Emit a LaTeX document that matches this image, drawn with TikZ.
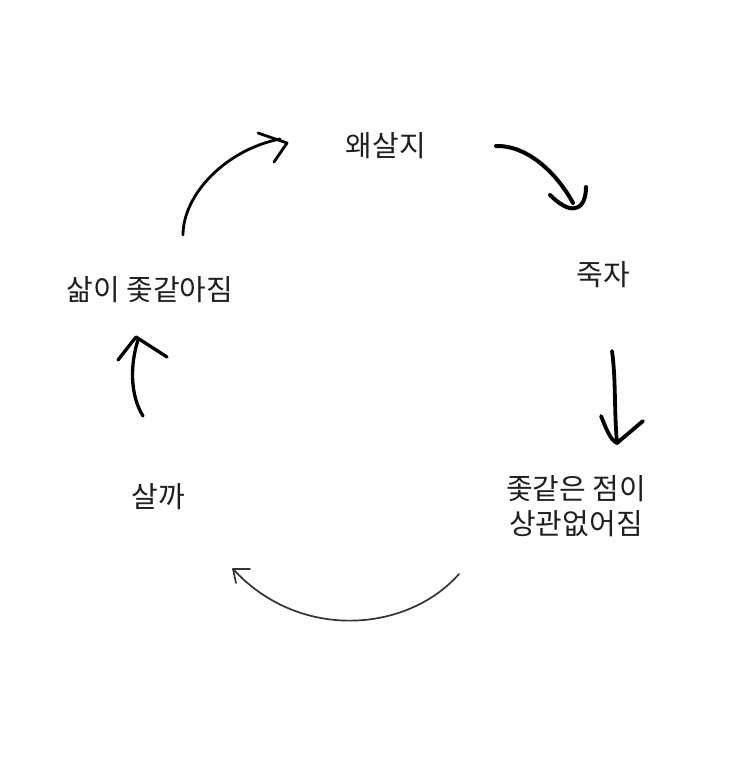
\documentclass[tikz,border=0pt]{standalone}
\usepackage{fontspec}
\setmainfont{Noto Sans CJK KR}
\begin{document}
\begin{tikzpicture}[x=1pt,y=-1pt,
  lbl/.style={inner sep=0pt,font=\fontsize{29}{35}\selectfont,align=center,text=black!88},
  pen/.style={line cap=round,line join=round,draw=black}]
\useasboundingbox (0,0) rectangle (750,759);
\fill[white] (0,0) rectangle (750,759);
% labels
\node[lbl] (why) at (386,146) {왜살지};
\node[lbl] (die) at (603,275) {죽자};
\node[lbl] (care) at (576,506) {좇같은 점이\\상관없어짐};
\node[lbl] (live) at (158,497) {살까};
\node[lbl] (life) at (150,290) {삶이 좇같아짐};
% arrow 1: life -> why
\coordinate (a1s) at (183,235);
\coordinate (a1t) at (287,143);
\coordinate (a1b1) at (258,133);
\coordinate (a1b2) at (274,162);
\draw[pen,line width=2.8pt] (a1s) .. controls (183,195) and (225,150) .. (280,139);
\draw[pen,line width=2.8pt] (a1b1) -- (a1t) -- (a1b2);
% arrow 2: why -> die
\coordinate (a2s) at (496,146);
\coordinate (a2t) at (575,208);
\coordinate (a2b1) at (550,195);
\coordinate (a2b2) at (586,187);
\draw[pen,line width=4pt] (a2s) .. controls (525,145) and (555,170) .. (573,203);
\draw[pen,line width=4pt] (a2b1) .. controls (558,203) and (568,210) .. (a2t) .. controls (583,207) and (586,197) .. (a2b2);
% arrow 3: die -> care
\coordinate (a3s) at (612,351);
\coordinate (a3t) at (617,443);
\coordinate (a3b1) at (601,416);
\coordinate (a3b2) at (643,421);
\draw[pen,line width=3.8pt] (a3s) .. controls (616,380) and (614,410) .. (a3t);
\draw[pen,line width=3.8pt] (a3b1) .. controls (606,428) and (610,440) .. (a3t) -- (a3b2);
% arrow 4: care -> live
\coordinate (a4s) at (459,574);
\coordinate (a4t) at (233,569);
\coordinate (a4b1) at (250,569);
\coordinate (a4b2) at (236,583);
\draw[pen,line width=1.7pt,draw=black!80] (a4s) .. controls (408,632) and (300,642) .. (a4t);
\draw[pen,line width=1.7pt,draw=black!80] (a4b1) -- (a4t) -- (a4b2);
% arrow 5: live -> life
\coordinate (a5s) at (143,416);
\coordinate (a5t) at (138,340);
\coordinate (a5b1) at (118,360);
\coordinate (a5b2) at (167,357);
\draw[pen,line width=3.3pt] (a5s) .. controls (130,395) and (130,365) .. (a5t);
\draw[pen,line width=3.3pt] (a5b1) -- (136,337) -- (a5b2);
\end{tikzpicture}
\end{document}
